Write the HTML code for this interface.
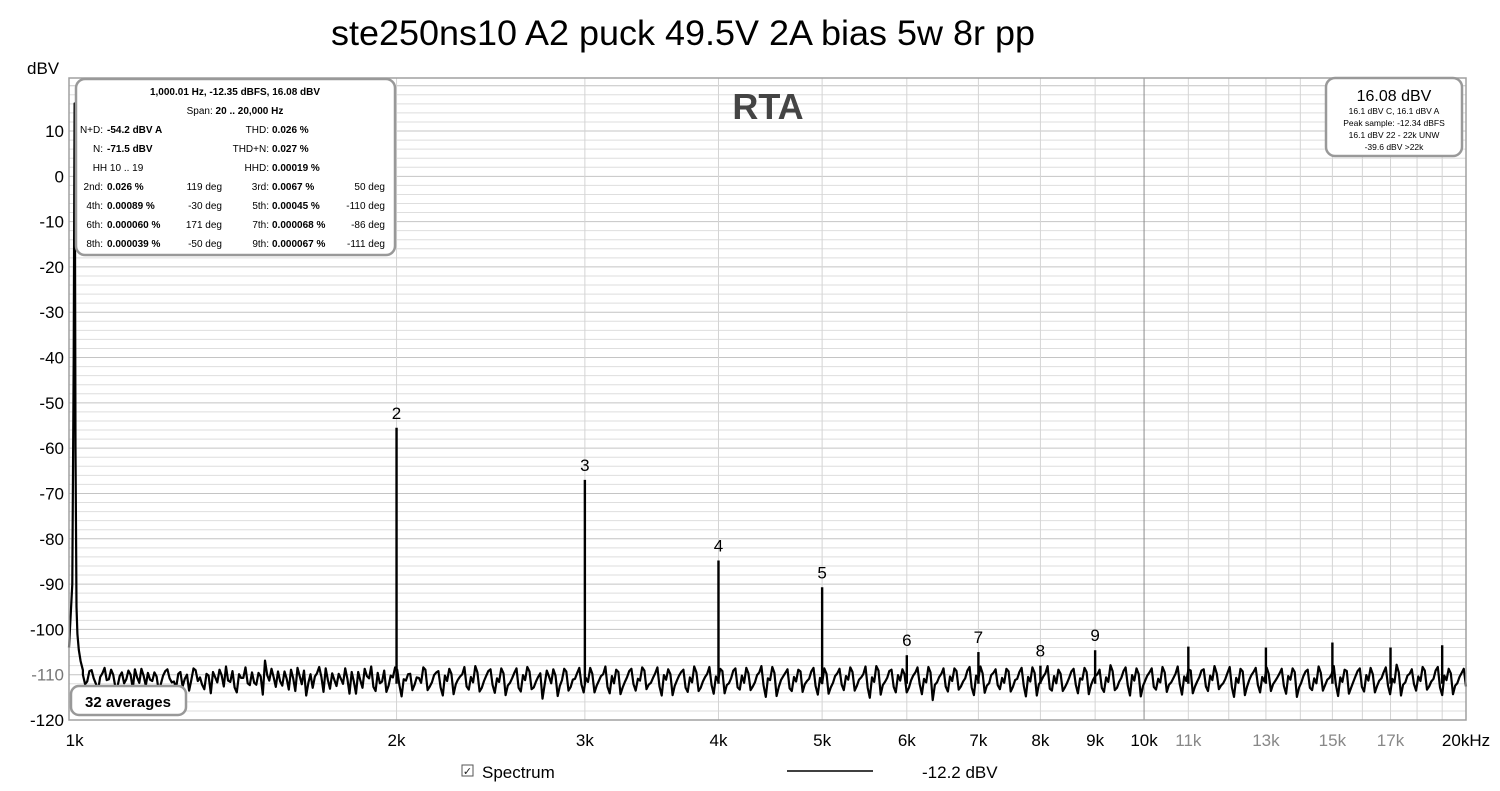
<!DOCTYPE html>
<html><head><meta charset="utf-8"><style>
body{margin:0;background:#fff;}
svg{display:block;font-family:"Liberation Sans",Arial,sans-serif;}
</style></head><body>
<svg id="chart" width="1500" height="791" viewBox="0 0 1500 791">
<rect x="0" y="0" width="1500" height="791" fill="#fff"/>
<text x="683" y="45" font-size="35" text-anchor="middle" fill="#000" textLength="704" lengthAdjust="spacingAndGlyphs">ste250ns10 A2 puck 49.5V 2A bias 5w 8r pp</text>
<text x="27" y="74" font-size="17" fill="#000">dBV</text>
<g id="grid"></g>
<g id="ticks"></g>
<g id="trace"></g>
<rect x="69" y="78" width="1397" height="642" fill="none" stroke="#a0a0a0" stroke-width="1.5"/>
<text x="768" y="119" font-size="36" font-weight="bold" fill="#444" text-anchor="middle">RTA</text>
<g id="labels"></g>

<g font-size="10" fill="#000">
<rect x="76" y="79" width="319" height="176" rx="9" fill="#fff" stroke="#999" stroke-width="2.5"/>
<text x="235" y="95" text-anchor="middle" font-weight="bold">1,000.01 Hz, -12.35 dBFS, 16.08 dBV</text>
<text x="235" y="114" text-anchor="middle">Span: <tspan font-weight="bold">20 .. 20,000 Hz</tspan></text>
<text x="103" y="133" text-anchor="end">N+D:</text><text x="107" y="133" font-weight="bold">-54.2 dBV A</text>
<text x="269" y="133" text-anchor="end">THD:</text><text x="272" y="133" font-weight="bold">0.026 %</text>
<text x="103" y="152" text-anchor="end">N:</text><text x="107" y="152" font-weight="bold">-71.5 dBV</text>
<text x="269" y="152" text-anchor="end">THD+N:</text><text x="272" y="152" font-weight="bold">0.027 %</text>
<text x="118" y="171" text-anchor="middle">HH 10 .. 19</text>
<text x="269" y="171" text-anchor="end">HHD:</text><text x="272" y="171" font-weight="bold">0.00019 %</text>
<text x="103" y="190" text-anchor="end">2nd:</text><text x="107" y="190" font-weight="bold">0.026 %</text><text x="222" y="190" text-anchor="end">119 deg</text>
<text x="269" y="190" text-anchor="end">3rd:</text><text x="272" y="190" font-weight="bold">0.0067 %</text><text x="385" y="190" text-anchor="end">50 deg</text>
<text x="103" y="209" text-anchor="end">4th:</text><text x="107" y="209" font-weight="bold">0.00089 %</text><text x="222" y="209" text-anchor="end">-30 deg</text>
<text x="269" y="209" text-anchor="end">5th:</text><text x="272" y="209" font-weight="bold">0.00045 %</text><text x="385" y="209" text-anchor="end">-110 deg</text>
<text x="103" y="228" text-anchor="end">6th:</text><text x="107" y="228" font-weight="bold">0.000060 %</text><text x="222" y="228" text-anchor="end">171 deg</text>
<text x="269" y="228" text-anchor="end">7th:</text><text x="272" y="228" font-weight="bold">0.000068 %</text><text x="385" y="228" text-anchor="end">-86 deg</text>
<text x="103" y="247" text-anchor="end">8th:</text><text x="107" y="247" font-weight="bold">0.000039 %</text><text x="222" y="247" text-anchor="end">-50 deg</text>
<text x="269" y="247" text-anchor="end">9th:</text><text x="272" y="247" font-weight="bold">0.000067 %</text><text x="385" y="247" text-anchor="end">-111 deg</text>
</g>

<g fill="#000" text-anchor="middle">
<rect x="1326" y="78" width="136" height="78" rx="9" fill="#fff" stroke="#999" stroke-width="2.5"/>
<text x="1394" y="101" font-size="16">16.08 dBV</text>
<text x="1394" y="114" font-size="8.5">16.1 dBV C, 16.1 dBV A</text>
<text x="1394" y="126" font-size="8.5">Peak sample: -12.34 dBFS</text>
<text x="1394" y="138" font-size="8.5">16.1 dBV 22 - 22k UNW</text>
<text x="1394" y="150" font-size="8.5">-39.6 dBV &gt;22k</text>
</g>

<g>
<rect x="71" y="686" width="115" height="29" rx="8" fill="#fff" stroke="#999" stroke-width="2.5"/>
<text x="128" y="707" font-size="15" font-weight="bold" text-anchor="middle" fill="#000">32 averages</text>
</g>

<g>
<rect x="462" y="765" width="11" height="11" fill="#fff" stroke="#555"/>
<text x="467.5" y="775" font-size="11" text-anchor="middle" fill="#222">✓</text>
<text x="482" y="778" font-size="17" fill="#000">Spectrum</text>
<line x1="787" y1="771" x2="873" y2="771" stroke="#000" stroke-width="1.5"/>
<text x="922" y="778" font-size="17" fill="#000">-12.2 dBV</text>
</g>
</svg>
<script>
const fMin = 988, fMax = 20000, dbMin = -120, dbMax = 21.7;
const yTicks = [10,0,-10,-20,-30,-40,-50,-60,-70,-80,-90,-100,-110,-120];
const xTickFreqs = [1000,2000,3000,4000,5000,6000,7000,8000,9000,10000,11000,13000,15000,17000,20000];
const xTickLabels = ["1k","2k","3k","4k","5k","6k","7k","8k","9k","10k","11k","13k","15k","17k","20kHz"];
const xTickGray = [0,0,0,0,0,0,0,0,0,0,1,1,1,1,0];
const gridFreqs = [2000,3000,4000,5000,6000,7000,8000,9000,10000,11000,12000,13000,14000,15000,16000,17000,18000,19000];
const harmFreqs = [2000,3000,4000,5000,6000,7000,8000,9000,11000,13000,15000,17000,19000];
const harmLevels = [-55.5,-67,-84.8,-90.7,-105.7,-105,-108,-104.6,-103.8,-104,-102.9,-104,-103.5];
const harmLabels = ["2","3","4","5","6","7","8","9","","","","",""];
const fundFreqs = [988,995,998,999.5,1000,1000.5,1002,1004,1006,1009,1013,1018];
const fundLevels = [-104,-90,-40,5,16.08,5,-60,-95,-101,-104.5,-107,-109];
const noiseStart = 1018, noiseEnd = 20000;
const noiseLevels = [-110,-111.5,-109,-112,-110.5,-108.5,-111,-110,-112.5,-109.5,-111,-110,-108.8,-111.8,-110.2,-109.6,-111.4,-110.4,-112,-109.2,
-110.8,-111.5,-109.8,-112.6,-110,-111.2,-109,-110.6,-113.2,-110.2,-109.4,-111.7,-110.1,-108.2,-111.6,-112.8,-109.9,-110.7,-111.9,-109.5,
-112.2,-110.4,-106.9,-111.3,-110.6,-109.3,-112.4,-110.9,-108.9,-113.6,-110.3,-109.1,-111.8,-112.9,-109.7,-110.5,-108.6,-113.1,-111.2,-109.8,
-112,-110.9,-109.4,-114.2,-111.3,-108.7,-110.8,-112.7,-109.6,-111.5,-113.8,-110.2,-108.4,-112.3,-111,-109.9,-113.4,-110.6,-111.8,-108.9,
-112.6,-110.1,-109.2,-114.6,-111.4,-109.8,-112.1,-110.4,-108.3,-113.3,-111.7,-109.5,-112.9,-110.3,-108.8,-114,-111.6,-109.7,-112.4,-110.8,
-108.6,-113.7,-111.2,-109.3,-112.8,-110.5,-115.3,-109.1,-111.9,-110.2,-112.5,-108.7,-113.5,-111.1,-109.6,-112.2,-110.7,-108.5,-113.9,-111.4,
-109.9,-112.7,-110.3,-108.9,-114.3,-111.6,-109.2,-112.1,-110.9,-108.4,-113.2,-111.8,-109.7,-112.6,-110.1,-108.8,-114.5,-111.3,-109.4,-112.9,
-110.6,-108.2,-113.6,-111.5,-109.8,-112.3,-110.4,-108.7,-114.1,-111.9,-109.1,-112.8,-110.2,-108.5,-113.4,-111.7,-109.5,-112.4,-110.8,-108.3,
-114.7,-111.2,-109.6,-113,-110.5,-108.9,-113.8,-111.4,-109.3,-112.5,-110.7,-108.6,-114.2,-111.8,-109.7,-112.2,-110.3,-108.4,-113.5,-111.1,
-109.9,-112.9,-110.6,-108.1,-114.4,-111.6,-109.2,-112.7,-110.1,-108.8,-113.9,-111.3,-109.5,-112.1,-110.9,-108.3,-115.6,-111.7,-109.8,-112.6,
-110.4,-108.6,-113.3,-111.5,-109.1,-112.8,-110.2,-108.2,-114,-111.9,-109.6,-112.3,-110.7,-108.7,-113.7,-111.2,-109.4,-112.5,-110.5,-108.4,
-114.6,-111.4,-109.7,-113.1,-110.3,-108.9,-113.6,-111.8,-109.3,-112.2,-110.8,-108.5,-114.3,-111.1,-109.9,-112.9,-110.6,-107.9,-113.4,-111.6,
-109.2,-112.4,-110.1,-108.6,-114.8,-111.3,-109.5,-112.7,-110.9,-108.3,-113.8,-111.7,-109.8,-112.1,-110.4,-108.8,-114.1,-111.5,-109.1,-112.6,
-110.2,-108.1,-113.2,-111.9,-109.6,-112.8,-110.7,-108.7,-114.5,-111.2,-109.4,-112.3,-110.5,-108.4,-113.6,-111.4,-109.7,-112.5,-110.3,-108.6,
-114.9,-111.8,-109.3,-112.9,-110.8,-108.2,-113.5,-111.1,-109.9,-112.2,-110.6,-108.9,-114.2,-111.6,-109.2,-112.7,-110.1,-108.5,-113.9,-111.3,
-109.5,-112.4,-110.9,-107.8,-114.6,-111.7,-109.8,-112.1,-110.4,-108.3,-113.3,-111.5,-109.1,-112.8,-110.2,-108.7,-114.3,-111.9,-109.6,-112.6];
const noiseLevelsB = [-112.1,-109.2,-110.8,-113.4,-109.7,-111.2,-108.9,-112.8,-110.3,-111.9,-109.1,-113.1,-110.6,-108.7,-112.4,-111.1,-109.5,-113.7,-110.2,-108.8,
-111.7,-112.9,-109.4,-110.9,-113.5,-108.6,-111.4,-112.2,-109.8,-114.1,-110.5,-108.9,-112.6,-111.3,-109.2,-113.9,-110.7,-108.4,-112.3,-111.8,
-109.6,-114.4,-110.1,-108.7,-112.7,-111.5,-109.3,-113.3,-110.8,-108.5,-112.1,-114.6,-109.9,-110.4,-108.3,-113.8,-111.2,-109.7,-112.5,-110.9,
-108.6,-114.2,-111.6,-109.4,-112.9,-110.3,-108.2,-113.6,-111.9,-109.1,-112.4,-110.6,-108.9,-114.8,-111.3,-109.8,-112.2,-110.7,-108.4,-113.4,
-111.7,-109.5,-112.8,-110.2,-108.7,-114.3,-111.1,-109.9,-112.6,-110.5,-108.1,-113.7,-111.4,-109.2,-112.3,-110.8,-108.6,-114.5,-111.8,-109.6,
-112.9,-110.1,-108.3,-113.2,-111.5,-109.7,-112.1,-110.4,-108.8,-114.7,-111.2,-109.3,-112.7,-110.9,-108.5,-113.9,-111.6,-109.8,-112.4,-110.3,
-108.2,-114.1,-111.9,-109.4,-112.8,-110.6,-108.7,-113.5,-111.3,-109.1,-112.2,-110.7,-108.4,-114.6,-111.1,-109.9,-112.5,-110.2,-108.9,-113.8,
-111.7,-109.5,-112.9,-110.5,-108.3,-114.2,-111.4,-109.2,-112.3,-110.8,-108.6,-113.3,-111.8,-109.7,-112.6,-110.1,-108.1,-114.9,-111.2,-109.6,
-112.7,-110.4,-108.8,-113.6,-111.5,-109.3,-112.1,-110.9,-108.5,-114.4,-111.9,-109.8,-112.8,-110.3,-108.7,-113.4,-111.1,-109.4,-112.5,-110.6,
-108.2,-115.1,-111.6,-109.1,-112.3,-110.7,-108.9,-113.9,-111.3,-109.9,-112.9,-110.2,-108.4,-114.3,-111.7,-109.5,-112.2,-110.5,-108.6,-113.7,
-111.4,-109.2,-112.6,-110.8,-108.3,-114.5,-111.2,-109.7,-112.4,-110.1,-108.8,-113.2,-111.8,-109.3,-112.7,-110.9,-108.5,-114.8,-111.5,-109.6,
-112.1,-110.4,-108.1,-113.5,-111.9,-109.8,-112.8,-110.6,-108.7,-114.1,-111.1,-109.4,-112.3,-110.3,-108.9,-113.8,-111.6,-109.2,-112.9,-110.7,
-108.4,-114.6,-111.3,-109.9,-112.5,-110.2,-108.6,-113.3,-111.7,-109.5,-112.2,-110.8,-108.2,-114.4,-111.4,-109.1,-112.6,-110.5,-108.8,-113.6,
-111.2,-109.7,-112.4,-110.9,-108.3,-114.9,-111.8,-109.3,-112.7,-110.1,-108.5,-113.9,-111.5,-109.8,-112.1,-110.6,-108.7,-114.2,-111.1,-109.4,
-112.8,-110.3,-108.9,-113.4,-111.9,-109.6,-112.3,-110.7,-108.1,-114.7,-111.6,-109.2,-112.9,-110.4,-108.6,-113.7,-111.3,-109.9,-112.5,-110.8,
-108.4,-114.3,-111.7,-109.5,-112.2,-110.2,-108.8,-113.5,-111.4,-109.1,-112.6,-110.9,-108.3,-114.5,-111.2,-109.7,-112.4,-110.5,-108.7,-113.8];

const X0 = 69, X1 = 1466, Y0 = 78, Y1 = 720;
function xs(f){ return X0 + (Math.log10(f) - Math.log10(fMin)) / (Math.log10(fMax) - Math.log10(fMin)) * (X1 - X0); }
function ys(d){ return Y1 - (d - dbMin) / (dbMax - dbMin) * (Y1 - Y0); }
const NS = "http://www.w3.org/2000/svg";
function mk(tag, attrs, parent){ const e = document.createElementNS(NS, tag); for (const k in attrs) e.setAttribute(k, attrs[k]); parent.appendChild(e); return e; }

const grid = document.getElementById('grid');
for (let d = -120; d <= 20; d += 2) {
  const major = d % 10 === 0;
  const l = mk('line', {x1:X0, x2:X1, y1:ys(d), y2:ys(d), stroke: major ? '#c4c4c4' : '#dedede', 'stroke-width':1}, grid);
  
  
}
gridFreqs.forEach(f => {
  const l = mk('line', {x1:xs(f), x2:xs(f), y1:Y0, y2:Y1, stroke: f === 10000 ? '#8a8a8a' : '#d4d4d4', 'stroke-width':1}, grid);
  
  
});

const ticks = document.getElementById('ticks');
yTicks.forEach(d => {
  const t = mk('text', {x:64, y:ys(d)+6, 'font-size':17, 'text-anchor':'end', fill: d === -110 ? '#777' : '#000'}, ticks);
  t.textContent = String(d);
  
  
});
xTickFreqs.forEach((f, i) => {
  const t = mk('text', {x:xs(f), y:746, 'font-size':17, 'text-anchor':'middle', fill: xTickGray[i] ? '#888' : '#000'}, ticks);
  t.textContent = xTickLabels[i];
  
  
});

const trace = document.getElementById('trace');
let pts = fundFreqs.map((f, i) => xs(f).toFixed(1) + ',' + ys(fundLevels[i]).toFixed(1));
const n = noiseLevels.length;
const lf0 = Math.log10(noiseStart), lf1 = Math.log10(noiseEnd);
noiseLevels.forEach((v, i) => {
  const f = Math.pow(10, lf0 + (lf1 - lf0) * i / (n - 1));
  pts.push(xs(f).toFixed(1) + ',' + ys(v).toFixed(1));
  if (i < n - 1 && i < noiseLevelsB.length) {
    const f2 = Math.pow(10, lf0 + (lf1 - lf0) * (i + 0.5) / (n - 1));
    pts.push(xs(f2).toFixed(1) + ',' + ys(noiseLevelsB[i]).toFixed(1));
  }
});
const pl = mk('polyline', {points: pts.join(' '), fill:'none', stroke:'#000', 'stroke-width':2.2, 'stroke-linejoin':'round'}, trace);



const labels = document.getElementById('labels');
harmFreqs.forEach((f, i) => {
  const p = mk('line', {x1:xs(f), x2:xs(f), y1:ys(-112), y2:ys(harmLevels[i]), stroke:'#000', 'stroke-width':2.4}, trace);
  
  
  if (harmLabels[i]) {
    const t = mk('text', {x:xs(f), y:ys(harmLevels[i]) - 9, 'font-size':17, 'text-anchor':'middle', fill:'#000'}, labels);
    t.textContent = harmLabels[i];
    
    
  }
});
</script>
</body></html>
